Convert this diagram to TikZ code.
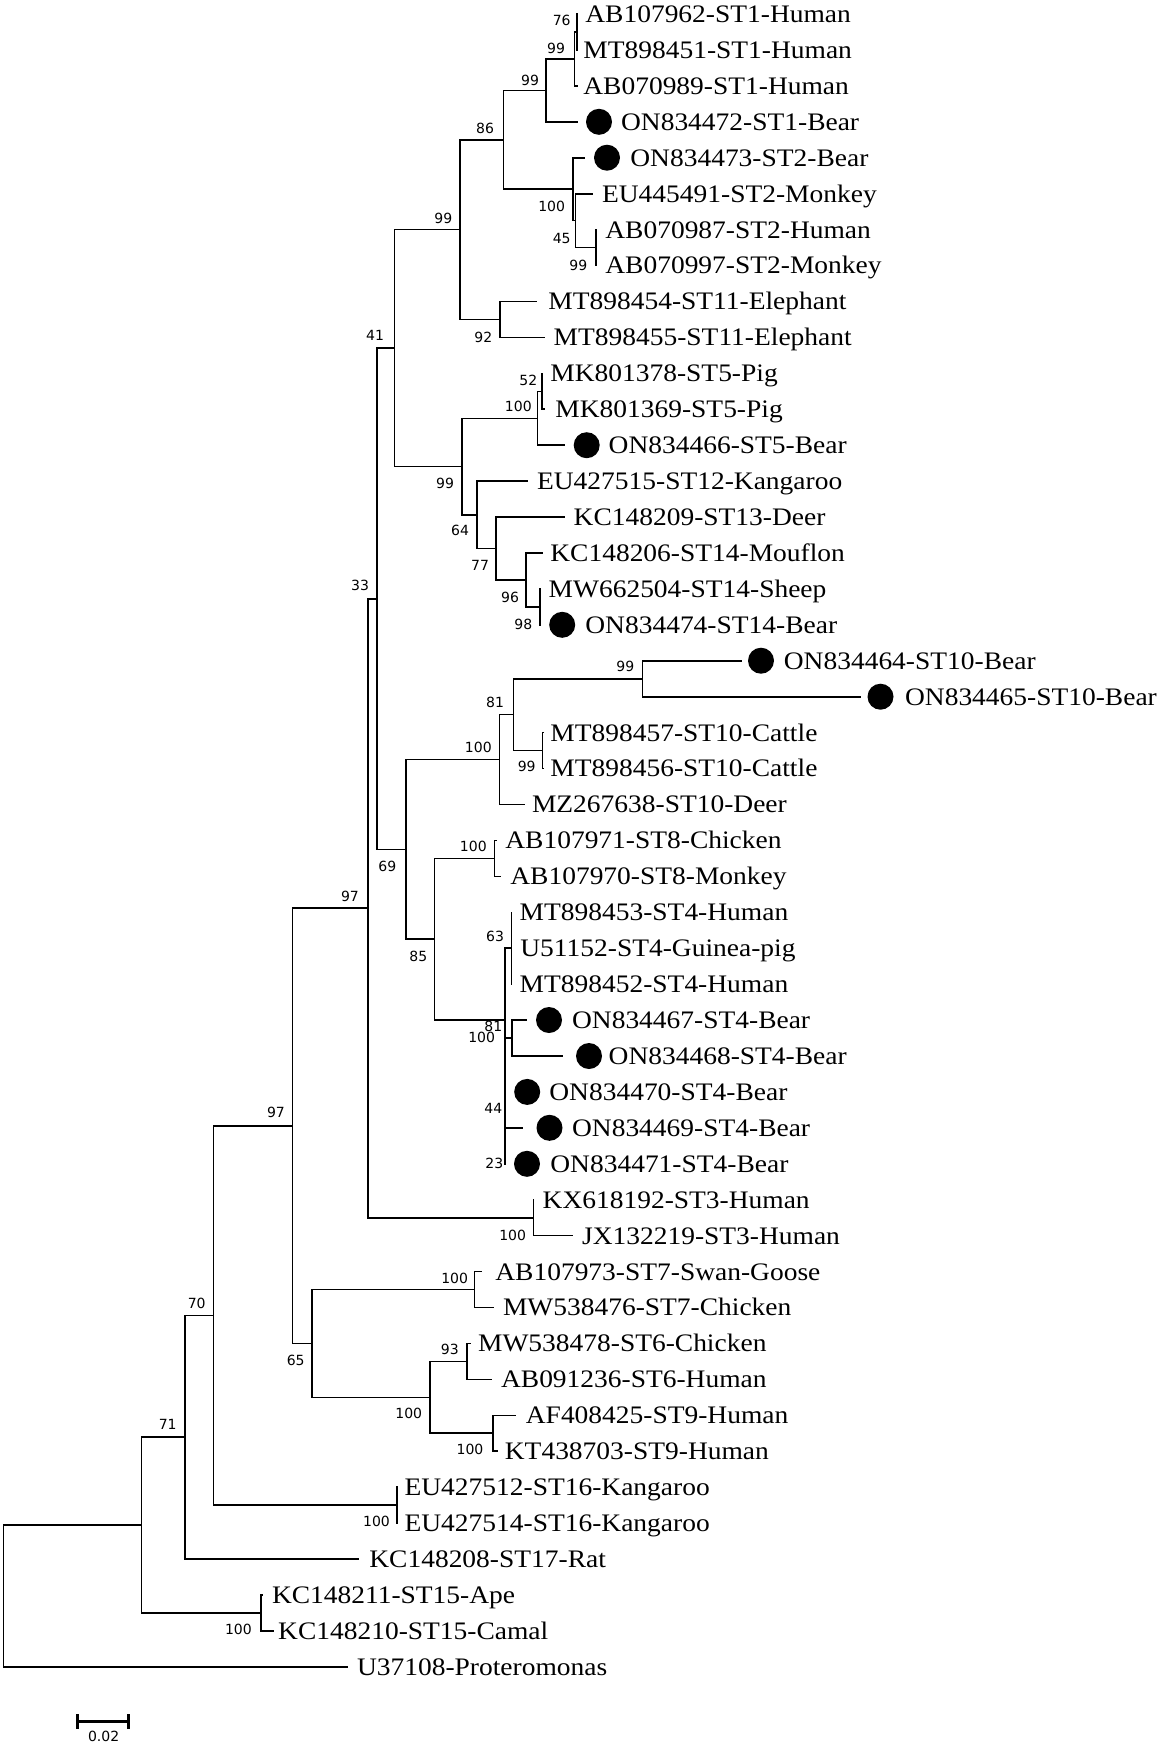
\documentclass[tikz,border=0pt]{standalone}
\usepackage{fontspec}
\setmainfont{Liberation Serif}[FakeStretch=1.09]
\newfontfamily\bsfont{DejaVu Sans}
\tikzset{
  branch/.style={line width=0.8pt, black},
  leaflabel/.style={anchor=base west, inner sep=0pt, font=\fontsize{12.6}{14}\selectfont},
  dot/.style={circle, fill=black, inner sep=0pt, minimum size=13pt},
  bs/.style={inner sep=0pt, font=\bsfont\fontsize{7}{8}\selectfont},
  scalebar/.style={line width=1.5pt, black},
}
\newcommand\LeafT[5]{%
  \coordinate (t#1) at (#2,#3);
  \node[leaflabel] (L#1) at (#4,#3+8.4) {#5};}
\newcommand\LeafB[6]{%
  \coordinate (t#1) at (#2,#3);
  \node[dot] (D#1) at (#4,#3) {};
  \node[leaflabel] (L#1) at (#5,#3+8.4) {#6};}
\begin{document}
\begin{tikzpicture}[x=0.5pt,y=-0.5pt]
\useasboundingbox (0,0) rectangle (1158,1747);
% leaves
\LeafT{1}{578}{14.0}{585}{AB107962-ST1-Human}
\LeafT{2}{578}{49.9}{583}{MT898451-ST1-Human}
\LeafT{3}{578}{85.9}{583}{AB070989-ST1-Human}
\LeafB{4}{578}{121.8}{599}{620.7}{ON834472-ST1-Bear}
\LeafB{5}{585}{157.7}{607}{630}{ON834473-ST2-Bear}
\LeafT{6}{593.3}{193.7}{601.7}{EU445491-ST2-Monkey}
\LeafT{7}{597}{229.6}{605}{AB070987-ST2-Human}
\LeafT{8}{597}{265.5}{605}{AB070997-ST2-Monkey}
\LeafT{9}{536.7}{301.4}{548}{MT898454-ST11-Elephant}
\LeafT{10}{545}{337.4}{553.3}{MT898455-ST11-Elephant}
\LeafT{11}{543}{373.3}{550}{MK801378-ST5-Pig}
\LeafT{12}{545}{409.2}{555}{MK801369-ST5-Pig}
\LeafB{13}{565}{445.2}{586.7}{608.3}{ON834466-ST5-Bear}
\LeafT{14}{528.3}{481.1}{536.7}{EU427515-ST12-Kangaroo}
\LeafT{15}{565}{517.0}{573.3}{KC148209-ST13-Deer}
\LeafT{16}{543.3}{552.9}{550}{KC148206-ST14-Mouflon}
\LeafT{17}{541}{588.9}{548.3}{MW662504-ST14-Sheep}
\LeafB{18}{541}{624.8}{562.2}{585}{ON834474-ST14-Bear}
\LeafB{19}{742.2}{660.7}{761}{783.5}{ON834464-ST10-Bear}
\LeafB{20}{861.2}{696.7}{880.5}{904.7}{ON834465-ST10-Bear}
\LeafT{21}{543.5}{732.6}{550}{MT898457-ST10-Cattle}
\LeafT{22}{543.5}{768.5}{550}{MT898456-ST10-Cattle}
\LeafT{23}{524.7}{804.5}{531.6}{MZ267638-ST10-Deer}
\LeafT{24}{497}{840.4}{505}{AB107971-ST8-Chicken}
\LeafT{25}{500.7}{876.3}{510}{AB107970-ST8-Monkey}
\LeafT{26}{512}{912.3}{519.3}{MT898453-ST4-Human}
\LeafT{27}{512}{948.2}{520}{U51152-ST4-Guinea-pig}
\LeafT{28}{512}{984.1}{519.3}{MT898452-ST4-Human}
\LeafB{29}{526.7}{1020.0}{549}{571.7}{ON834467-ST4-Bear}
\LeafB{30}{563.3}{1056.0}{589}{608.3}{ON834468-ST4-Bear}
\LeafB{31}{505}{1091.9}{527.2}{549}{ON834470-ST4-Bear}
\LeafB{32}{523.3}{1127.8}{549.5}{571.7}{ON834469-ST4-Bear}
\LeafB{33}{506}{1163.8}{527}{550}{ON834471-ST4-Bear}
\LeafT{34}{534}{1199.7}{542.3}{KX618192-ST3-Human}
\LeafT{35}{573.3}{1235.6}{581.7}{JX132219-ST3-Human}
\LeafT{36}{481.5}{1271.6}{495}{AB107973-ST7-Swan-Goose}
\LeafT{37}{493.8}{1307.5}{502.6}{MW538476-ST7-Chicken}
\LeafT{38}{470.8}{1343.4}{477.7}{MW538478-ST6-Chicken}
\LeafT{39}{491.9}{1379.3}{500.7}{AB091236-ST6-Human}
\LeafT{40}{516}{1415.3}{525.5}{AF408425-ST9-Human}
\LeafT{41}{498}{1451.2}{504.5}{KT438703-ST9-Human}
\LeafT{42}{398}{1487.1}{404.2}{EU427512-ST16-Kangaroo}
\LeafT{43}{398}{1523.1}{404.2}{EU427514-ST16-Kangaroo}
\LeafT{44}{358.6}{1559.0}{369}{KC148208-ST17-Rat}
\LeafT{45}{263.3}{1594.9}{271.6}{KC148211-ST15-Ape}
\LeafT{46}{273.6}{1630.8}{277.8}{KC148210-ST15-Camal}
\LeafT{47}{348.3}{1666.8}{356.6}{U37108-Proteromonas}
% internal nodes
\coordinate (n76) at (576.7,32.0);
\coordinate (n99c) at (574.3,58.9);
\coordinate (n99b) at (545.7,90.4);
\coordinate (n99d) at (595.7,247.6);
\coordinate (n45) at (575.3,220.6);
\coordinate (n100a) at (572.7,189.2);
\coordinate (n86) at (503.3,139.8);
\coordinate (n92) at (500,319.4);
\coordinate (n99a) at (460,229.6);
\coordinate (n52) at (541.7,391.3);
\coordinate (n100b) at (537.3,418.3);
\coordinate (n98) at (540,606.8);
\coordinate (n96) at (525.7,579.9);
\coordinate (n77) at (496,548.4);
\coordinate (n64) at (476.7,514.8);
\coordinate (n99e) at (461.7,466.6);
\coordinate (n41) at (394.5,348.1);
\coordinate (n99f) at (642.4,678.7);
\coordinate (n99g) at (542.3,750.6);
\coordinate (n81) at (513.3,714.6);
\coordinate (n100c) at (499.5,759.6);
\coordinate (n100d) at (494.5,858.4);
\coordinate (n63) at (511.3,948.2);
\coordinate (n81b) at (511.7,1038.0);
\coordinate (n100e) at (505,1020.0);
\coordinate (n85) at (434.3,939.2);
\coordinate (n69) at (406,849.4);
\coordinate (n33) at (376.7,598.8);
\coordinate (n100f) at (533.3,1217.7);
\coordinate (n97a) at (367.7,908.2);
\coordinate (n100g) at (474.6,1289.5);
\coordinate (n93) at (467,1361.4);
\coordinate (n100i) at (493,1433.2);
\coordinate (n100h) at (429.9,1397.3);
\coordinate (n65) at (311.7,1343.4);
\coordinate (n97b) at (292.5,1125.8);
\coordinate (n100j) at (397.2,1505.1);
\coordinate (n70) at (213.4,1315.5);
\coordinate (n71) at (185,1437.2);
\coordinate (n100k) at (261.2,1612.9);
\coordinate (nB) at (141.5,1525.1);
\coordinate (root) at (3.5,1596);
% branches
\draw[branch] (n76) |- (t1) (n76) |- (t2);
\draw[branch] (n99c) |- (n76) (n99c) |- (t3);
\draw[branch] (n99b) |- (n99c) (n99b) |- (t4);
\draw[branch] (n99d) |- (t7) (n99d) |- (t8);
\draw[branch] (n45) |- (t6) (n45) |- (n99d);
\draw[branch] (n100a) |- (t5) (n100a) |- (n45);
\draw[branch] (n86) |- (n99b) (n86) |- (n100a);
\draw[branch] (n92) |- (t9) (n92) |- (t10);
\draw[branch] (n99a) |- (n86) (n99a) |- (n92);
\draw[branch] (n52) |- (t11) (n52) |- (t12);
\draw[branch] (n100b) |- (n52) (n100b) |- (t13);
\draw[branch] (n98) |- (t17) (n98) |- (t18);
\draw[branch] (n96) |- (t16) (n96) |- (n98);
\draw[branch] (n77) |- (t15) (n77) |- (n96);
\draw[branch] (n64) |- (t14) (n64) |- (n77);
\draw[branch] (n99e) |- (n100b) (n99e) |- (n64);
\draw[branch] (n41) |- (n99a) (n41) |- (n99e);
\draw[branch] (n99f) |- (t19) (n99f) |- (t20);
\draw[branch] (n99g) |- (t21) (n99g) |- (t22);
\draw[branch] (n81) |- (n99f) (n81) |- (n99g);
\draw[branch] (n100c) |- (n81) (n100c) |- (t23);
\draw[branch] (n100d) |- (t24) (n100d) |- (t25);
\draw[branch] (n63) |- (t26) (n63) |- (t27) (n63) |- (t28);
\draw[branch] (n81b) |- (t29) (n81b) |- (t30);
\draw[branch] (n100e) |- (n63) (n100e) |- (n81b) (n100e) |- (t31) (n100e) |- (t32) (n100e) |- (t33);
\draw[branch] (n85) |- (n100d) (n85) |- (n100e);
\draw[branch] (n69) |- (n100c) (n69) |- (n85);
\draw[branch] (n33) |- (n41) (n33) |- (n69);
\draw[branch] (n100f) |- (t34) (n100f) |- (t35);
\draw[branch] (n97a) |- (n33) (n97a) |- (n100f);
\draw[branch] (n100g) |- (t36) (n100g) |- (t37);
\draw[branch] (n93) |- (t38) (n93) |- (t39);
\draw[branch] (n100i) |- (t40) (n100i) |- (t41);
\draw[branch] (n100h) |- (n93) (n100h) |- (n100i);
\draw[branch] (n65) |- (n100g) (n65) |- (n100h);
\draw[branch] (n97b) |- (n97a) (n97b) |- (n65);
\draw[branch] (n100j) |- (t42) (n100j) |- (t43);
\draw[branch] (n70) |- (n97b) (n70) |- (n100j);
\draw[branch] (n71) |- (n70) (n71) |- (t44);
\draw[branch] (n100k) |- (t45) (n100k) |- (t46);
\draw[branch] (nB) |- (n71) (nB) |- (n100k);
\draw[branch] (root) |- (nB) (root) |- (t47);
% bootstrap values
\node[bs] (b76) at (561.7,20.7) {76};
\node[bs] (b99c) at (556,48.3) {99};
\node[bs] (b99b) at (530,80) {99};
\node[bs] (b86) at (485,128.3) {86};
\node[bs] (b99a) at (443.3,218.3) {99};
\node[bs] (b100a) at (551.7,206.7) {100};
\node[bs] (b45) at (561.7,238.3) {45};
\node[bs] (b99d) at (578.3,265) {99};
\node[bs] (b92) at (483.3,337.3) {92};
\node[bs] (b41) at (375,335.7) {41};
\node[bs] (b52) at (528.3,380) {52};
\node[bs] (b100b) at (518.3,406.7) {100};
\node[bs] (b99e) at (445,483.3) {99};
\node[bs] (b64) at (460,530.7) {64};
\node[bs] (b77) at (480,565) {77};
\node[bs] (b96) at (510,597.3) {96};
\node[bs] (b98) at (523.3,624) {98};
\node[bs] (b33) at (360,585.7) {33};
\node[bs] (b99f) at (625.4,666) {99};
\node[bs] (b81) at (495,702.7) {81};
\node[bs] (b100c) at (478.3,747.7) {100};
\node[bs] (b99g) at (526.7,766.7) {99};
\node[bs] (b100d) at (473.3,846.7) {100};
\node[bs] (b69) at (387.3,866) {69};
\node[bs] (b97a) at (350,896) {97};
\node[bs] (b63) at (495,936.7) {63};
\node[bs] (b85) at (418.3,956) {85};
\node[bs] (b81b) at (493.3,1026.7) {81};
\node[bs] (b100e) at (481.7,1037.3) {100};
\node[bs] (b44) at (493.3,1108.3) {44};
\node[bs] (b23) at (494.3,1163.3) {23};
\node[bs] (b100f) at (512.7,1235) {100};
\node[bs] (b97b) at (276,1112.7) {97};
\node[bs] (b100g) at (454.7,1278.3) {100};
\node[bs] (b93) at (449.8,1349.3) {93};
\node[bs] (b65) at (295.7,1360) {65};
\node[bs] (b100h) at (408.8,1413.3) {100};
\node[bs] (b100i) at (470,1449.3) {100};
\node[bs] (b70) at (196.7,1303.3) {70};
\node[bs] (b71) at (167.7,1424) {71};
\node[bs] (b100j) at (376.5,1521.7) {100};
\node[bs] (b100k) at (238.4,1629.3) {100};
% scale bar
\coordinate (sbL) at (77,1721.7);
\coordinate (sbR) at (128.5,1721.7);
\draw[scalebar] (sbL) -- (sbR);
\draw[scalebar] ([yshift=3.7pt]sbL) -- ([yshift=-3.7pt]sbL);
\draw[scalebar] ([yshift=3.7pt]sbR) -- ([yshift=-3.7pt]sbR);
\node[bs] (sbtext) at (103.6,1736.7) {0.02};
\end{tikzpicture}
\end{document}
